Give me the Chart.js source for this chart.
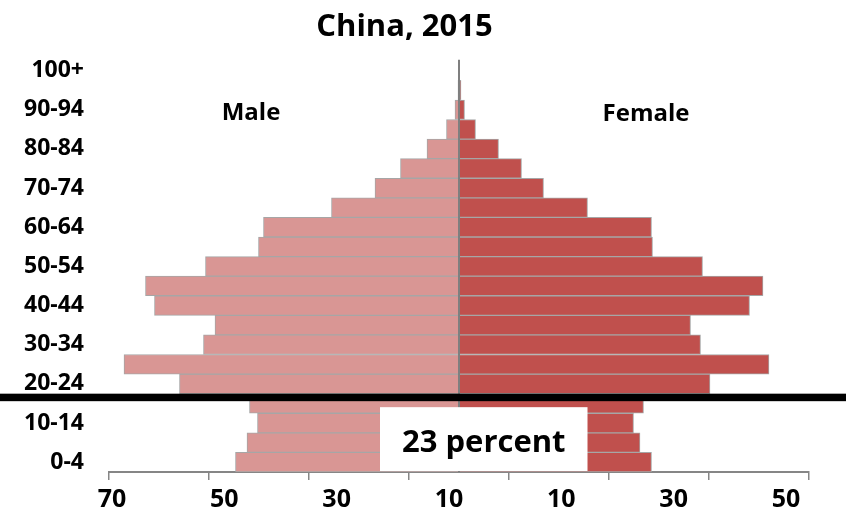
<!DOCTYPE html>
<html>
<head>
<meta charset="utf-8">
<title>China, 2015</title>
<script src="https://cdn.jsdelivr.net/npm/chart.js@4.4.1/dist/chart.umd.min.js"></script>
<style>
  html, body { margin: 0; padding: 0; background: #ffffff; }
  canvas { display: block; }
</style>
</head>
<body>
<canvas id="pyramid" width="846" height="511"></canvas>
<script>
// Population by five-year age group, millions
const ageGroups = ['0-4', '5-9', '10-14', '15-19', '20-24', '25-29', '30-34', '35-39',
  '40-44', '45-49', '50-54', '55-59', '60-64', '65-69', '70-74', '75-79',
  '80-84', '85-89', '90-94', '95-99', '100+'];
const maleMillions = [44.7, 42.4, 40.3, 41.9, 55.9, 67.0, 51.1, 48.8, 60.9, 62.7,
  50.7, 40.1, 39.1, 25.5, 16.8, 11.7, 6.4, 2.5, 0.8, 0.2, 0.02];
const femaleMillions = [38.5, 36.2, 34.9, 36.9, 50.2, 62.0, 48.3, 46.3, 58.1, 60.8,
  48.7, 38.7, 38.5, 25.7, 16.9, 12.5, 7.9, 3.3, 1.1, 0.4, 0.05];

// Axis tick marks (signed) and the printed labels underneath
const axisTickValues = [-70, -50, -30, -10, 10, 30, 50, 70];
const axisTickLabels = ['70', '50', '30', '10', '10', '30', '50'];

const titleText = 'China, 2015';
const maleLabel = 'Male';
const femaleLabel = 'Female';
const calloutText = '23 percent';

const FONT = "'Open Sans', 'Noto Sans', sans-serif";
const MALE_FILL = '#d99694';
const FEMALE_FILL = '#c0504d';
const BAR_EDGE = '#a6a6a6';
const AXIS_GREY = '#868686';

function zeroPadding(scale) {
  scale.paddingTop = 0; scale.paddingBottom = 0;
  scale.paddingLeft = 0; scale.paddingRight = 0;
}

// Divider, rule, callout and the sex labels drawn on top of the bars
const pyramidNotes = {
  id: 'pyramidNotes',
  afterDatasetsDraw(chart) {
    const { ctx, chartArea, scales: { x, y } } = chart;
    const zero = x.getPixelForValue(0);
    ctx.save();

    ctx.strokeStyle = '#7f7f7f';
    ctx.lineWidth = 2;
    ctx.beginPath();
    ctx.moveTo(zero, chartArea.top - 1);
    ctx.lineTo(zero, chartArea.bottom);
    ctx.stroke();

    // heavy rule between the 15-19 and 20-24 rows
    const ruleTop = (y.getPixelForValue(3) + y.getPixelForValue(4)) / 2;
    ctx.fillStyle = '#000000';
    ctx.fillRect(0, ruleTop, chart.width, 7.5);

    // callout box
    const boxLeft = x.getPixelForValue(-15.8);
    const boxRight = x.getPixelForValue(25.7);
    const boxTop = ruleTop + 13.5;
    const boxBottom = chartArea.bottom - 1;
    ctx.fillStyle = '#ffffff';
    ctx.fillRect(boxLeft, boxTop, boxRight - boxLeft, boxBottom - boxTop);
    ctx.fillStyle = '#000000';
    ctx.textAlign = 'center';
    ctx.textBaseline = 'middle';
    ctx.font = `bold 31px ${FONT}`;
    ctx.fillText(calloutText, (boxLeft + boxRight) / 2, (boxTop + boxBottom) / 2 + 4);

    ctx.font = `bold 24px ${FONT}`;
    const sexRow = y.getPixelForValue(18);
    ctx.fillText(maleLabel, x.getPixelForValue(-41.6), sexRow + 3.5);
    ctx.fillText(femaleLabel, x.getPixelForValue(37.4), sexRow + 4.5);
    ctx.restore();
  }
};

new Chart(document.getElementById('pyramid'), {
  type: 'bar',
  data: {
    labels: ageGroups,
    datasets: [
      {
        label: maleLabel,
        data: maleMillions.map(v => -v),
        backgroundColor: MALE_FILL,
        borderColor: BAR_EDGE,
        borderWidth: 1,
        barPercentage: 1,
        categoryPercentage: 1
      },
      {
        label: femaleLabel,
        data: femaleMillions,
        backgroundColor: FEMALE_FILL,
        borderColor: BAR_EDGE,
        borderWidth: 1,
        barPercentage: 1,
        categoryPercentage: 1
      }
    ]
  },
  options: {
    indexAxis: 'y',
    responsive: false,
    animation: false,
    devicePixelRatio: 1,
    layout: { padding: { left: 0, right: 37, top: 0, bottom: 0 } },
    plugins: {
      legend: { display: false },
      tooltip: { enabled: false },
      title: {
        display: true,
        text: titleText,
        color: '#000000',
        font: { family: FONT, size: 31, weight: 'bold', lineHeight: 1.2 },
        padding: { top: 9, bottom: 14.6 }
      }
    },
    scales: {
      y: {
        type: 'category',
        reverse: true,
        stacked: true,
        grid: { display: false, drawTicks: false },
        border: { display: false },
        ticks: {
          autoSkip: false,
          padding: 25,
          color: '#000000',
          font: { family: FONT, size: 23, weight: 'bold' },
          callback: (value) => (value % 2 === 0 ? ageGroups[value] : '')
        },
        afterFit: (s) => { s.width = 109; zeroPadding(s); }
      },
      x: {
        type: 'linear',
        position: 'bottom',
        weight: 0,
        min: -70,
        max: 70,
        stacked: true,
        afterBuildTicks: (s) => { s.ticks = axisTickValues.map(v => ({ value: v })); },
        ticks: { display: false },
        grid: { drawOnChartArea: false, drawTicks: true, tickLength: 8, color: AXIS_GREY, lineWidth: 1.5 },
        border: { display: true, color: AXIS_GREY, width: 2 },
        afterFit: (s) => { s.height = 8; zeroPadding(s); }
      },
      xLabels: {
        type: 'linear',
        position: 'bottom',
        weight: 1,
        min: -0.0267,
        max: 6.2048,
        afterBuildTicks: (s) => { s.ticks = axisTickLabels.map((_, i) => ({ value: i })); },
        grid: { display: false, drawTicks: false },
        border: { display: false },
        ticks: {
          autoSkip: false,
          maxRotation: 0,
          padding: 5,
          color: '#000000',
          font: { family: FONT, size: 25, weight: 'bold' },
          callback: (value, index) => axisTickLabels[index]
        },
        afterFit: (s) => { s.height = 31; zeroPadding(s); }
      }
    }
  },
  plugins: [pyramidNotes]
});
</script>
</body>
</html>
